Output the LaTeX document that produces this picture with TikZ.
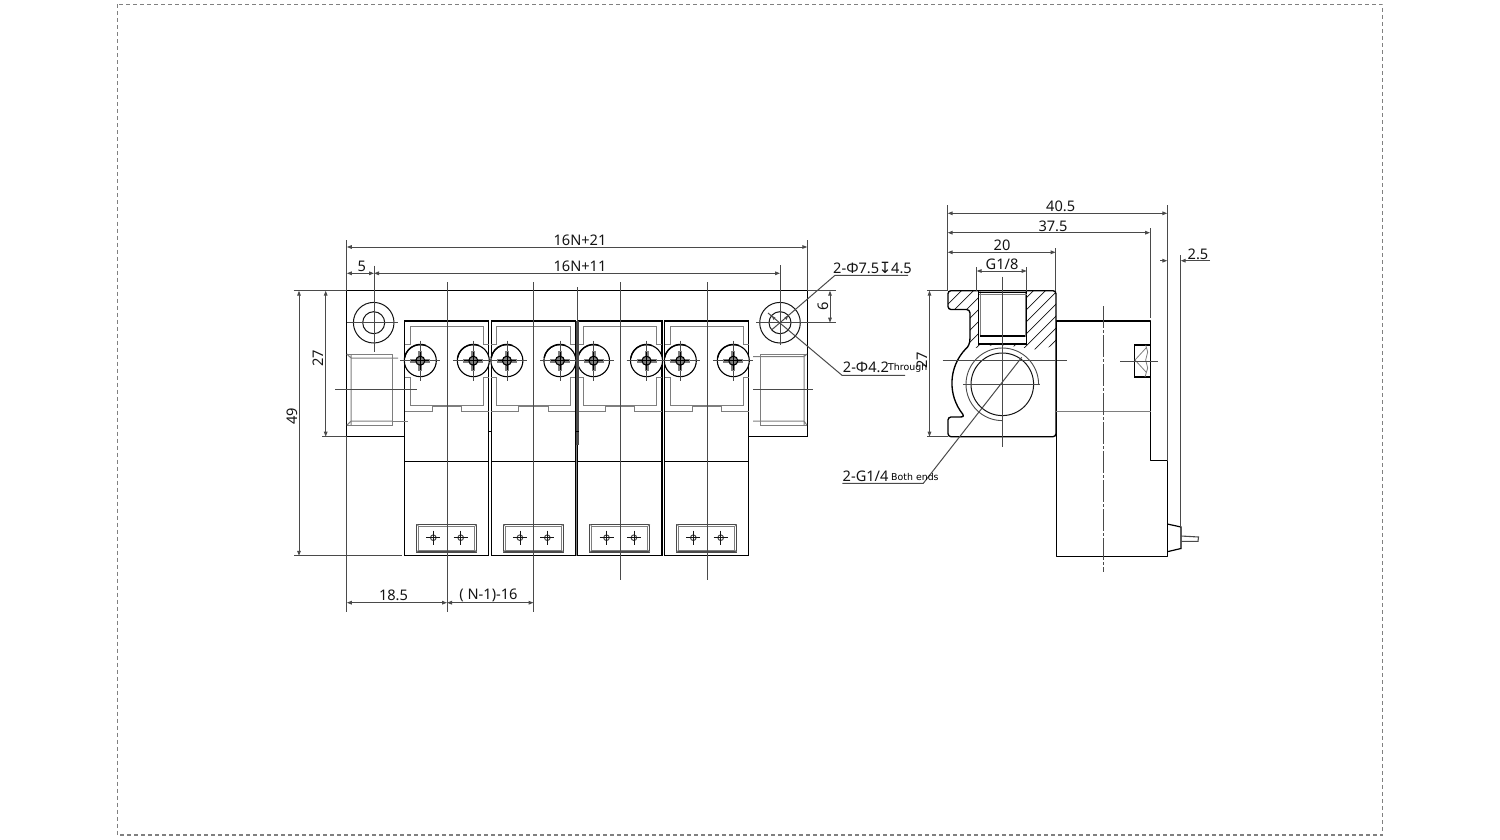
\documentclass[tikz,border=0pt]{standalone}
\usepackage{fontspec}
\setmainfont{Noto Sans}
\newfontfamily\dvfont{DejaVu Sans}
\usetikzlibrary{arrows.meta,calc}
\definecolor{lg}{HTML}{7E7E7E}
\definecolor{dimg}{HTML}{4A4A4A}
\definecolor{inkc}{HTML}{141414}
\tikzset{
  outl/.style={draw=black,line width=1.35pt},
  thinl/.style={draw=lg,line width=1pt},
  ctr/.style={draw=dimg,line width=0.9pt},
  extl/.style={draw=dimg,line width=1pt},
  diml/.style={draw=dimg,line width=1pt,{Stealth[length=5pt,width=3.6pt,inset=0pt]}-{Stealth[length=5pt,width=3.6pt,inset=0pt]}},
  dimr/.style={draw=dimg,line width=1pt,-{Stealth[length=5pt,width=3.6pt,inset=0pt]}},
  lab/.style={font=\fontsize{14.6}{14.6}\selectfont,text=inkc,inner sep=0pt},
  tiny/.style={font=\dvfont\fontsize{9.4}{9.4}\selectfont,text=black,inner sep=0pt},
  screwp/.pic={
    \path[fill=white] (0,0) circle[radius=16pt];
    \draw[draw=black,line width=1.1pt] (0,0) circle[radius=16pt];
    \draw[draw=black,line width=1.4pt] (-15.7,-3) arc[start angle=170,end angle=70,radius=16pt];
    \draw[ctr,line width=0.8pt] (-20,0) -- (20,0) (0,-20) -- (0,20);
    \draw[draw=lg,line width=4pt] (-10,0) -- (10,0) (0,-10) -- (0,10);
    \draw[draw=black,line width=1.1pt,fill=lg] (0,0) circle[radius=4.5pt];
    \draw[draw=black,line width=0.6pt] (-9,0) -- (9,0) (0,-9) -- (0,9);
  },
  targetp/.pic={
    \draw[draw=dimg,line width=1pt] (0,0) circle[radius=2.8pt];
    \draw[draw=inkc,line width=0.7pt] (-7,0) -- (7,0) (0,-7) -- (0,7);
  }
}
\begin{document}
\begin{tikzpicture}[x=1pt,y=-1pt]
\useasboundingbox (0,0) rectangle (1500,840);
% frame
\draw[draw=gray,line width=1.3pt,dash pattern=on 4pt off 3pt] (117.5,4.5) rectangle (1382.5,835);

% ---------- front view: plate
\draw[outl] (405,436.5) -- (346.8,436.5) -- (346.8,290.7) -- (807.3,290.7) -- (807.3,436.5) -- (749,436.5);
% mounting holes
\draw[draw=inkc,line width=1pt] (373.7,322.7) circle[radius=20.3pt] (373.7,322.7) circle[radius=11pt];
\draw[draw=inkc,line width=1pt] (780,322.7) circle[radius=20.3pt] (780,322.7) circle[radius=11pt];
\draw[ctr] (374,265.7) -- (374,352) (347,322.7) -- (398,322.7);
\draw[ctr] (780,265) -- (780,345) (756,322.7) -- (836,322.7);
% ports
\draw[thinl] (346.8,354) -- (392.7,354) -- (392.7,425.3) -- (346.8,425.3);
\draw[thinl] (351,425.3) -- (351,354) (346.8,354) -- (351,358) -- (398,358) (346.8,425.3) -- (351,421) -- (392.7,421);
\draw[thinl] (807,354) -- (760.7,354) -- (760.7,425.3) -- (807,425.3);
\draw[thinl] (804,354) -- (804,425.3) (807,354) -- (804,356.7) -- (753,356.7) (807,425.3) -- (804,421) -- (753,421);
\draw[ctr] (753,389.3) -- (813,389.3);

% ---------- front view: modules
\foreach \dx in {0,86.6,173.2,260}{
\begin{scope}[shift={(\dx,0)}]
  \draw[outl,fill=white] (404.6,321) rectangle (488.7,555.8);
  \draw[outl] (404.6,461.7) -- (488.7,461.7);
  % inner
  \draw[thinl] (410,344.7) -- (410,326.7) -- (483.7,326.7) -- (483.7,344.7)
     (410,377) -- (410,405) -- (432,405) -- (432,411.7) -- (404.6,411.7)
     (483.7,377) -- (483.7,405) -- (461.7,405) -- (461.7,411.7) -- (488.7,411.7)
     (404.6,344.7) -- (410,344.7) (404.6,377) -- (410,377)
     (483.7,344.7) -- (488.7,344.7) (483.7,377) -- (488.7,377);
  \draw[draw=lg,line width=1.6pt] (432,406) -- (461.7,406);
  % window
  \draw[draw=dimg,line width=1.1pt] (416.7,524.3) rectangle (476.7,552);
  \draw[draw=lg,line width=0.9pt] (418.7,526.3) rectangle (474.7,550);
  \draw[draw=lg,line width=0.7pt] (416.7,524.3) -- (418.7,526.3) (476.7,524.3) -- (474.7,526.3) (416.7,552) -- (418.7,550) (476.7,552) -- (474.7,550);
  \pic at (433.3,537.7) {targetp};
  \pic at (460.7,537.7) {targetp};
  \draw[ctr] (447,282) -- (447,580);
\end{scope}
}
\draw[ctr] (335,389.3) -- (417,389.3);
\draw[thinl] (392.7,421) -- (408,421);
\foreach \dx in {0,86.6,173.2,260}{
  \pic at (420.3+\dx,360.7) {screwp};
  \pic at (473.3+\dx,360.7) {screwp};
}
% between modules
\draw[draw=dimg,line width=3pt] (577,321) -- (577,445);
\draw[ctr] (577,287) -- (577,321);
\draw[draw=black,line width=1pt] (489,431) -- (491.5,431) (575.5,431) -- (578.5,431);
\draw[draw=lg,line width=0.9pt] (576,445) -- (576,556);

% ---------- front view: dimensions
\draw[extl] (346.8,240) -- (346.8,291) (346.8,437) -- (346.8,612);
\draw[extl] (807.3,240) -- (807.3,291);
\draw[diml] (346.8,247) -- (807.3,247);
\draw[diml] (346.8,273.3) -- (374,273.3);
\draw[diml] (374,273.3) -- (780,273.3);
\node[lab] (d1) at (580,240.5) {16N+21};
\node[lab] (d2) at (580,266.5) {16N+11};
\node[lab] (d3) at (361.7,266.5) {5};
\draw[extl] (293.5,290.7) -- (347,290.7) (322,436.7) -- (347,436.7) (294,555.8) -- (402,555.8);
\draw[diml] (299,290.7) -- (299,555.8);
\draw[diml] (325.7,290.7) -- (325.7,436.7);
\node[lab,rotate=90] (d4) at (292,416) {49};
\node[lab,rotate=90] (d5) at (318.5,358.5) {27};
\draw[extl] (447,580) -- (447,612) (533.6,580) -- (533.6,612);
\draw[diml] (346.8,602.7) -- (447,602.7);
\draw[diml] (447,602.7) -- (533.6,602.7);
\node[lab] (d6) at (393.5,595.5) {18.5};
\node[lab] (d7) at (488.5,595.5) {( N-1)-16};
% 6
\draw[extl] (807,290.7) -- (836,290.7);
\draw[diml] (830,290.7) -- (830,322.7);
\node[lab,rotate=90] (d8) at (823,306.7) {6};
% leaders
\draw[extl] (908,275.3) -- (835,275.3) -- (771.5,330);
\draw[extl] (905,375.3) -- (842,375.3) -- (768,313);
\fill[dimg] (788.3,315.5) -- (784.5,317.5) -- (786.5,320) -- cycle;
\fill[dimg] (771.7,315.7) -- (775.5,317.7) -- (773.5,320) -- cycle;
\node[lab,anchor=west] (d9) at (833,268.3) {2-Φ7.5{\dvfont\fontsize{15.5}{15.5}\selectfont\kern-0.5pt ↧\kern-0.5pt}4.5};
\node[lab,anchor=west] (d10) at (842.7,367.3) {2-Φ4.2};
\node[tiny,anchor=west] (d11) at (888,368) {Through};

% ---------- side view: block
\begin{scope}
\clip (951,290.7) -- (978.7,290.7) -- (978.7,344) -- (1026.7,344) -- (1026.7,290.7) -- (1056,290.7) -- (1056,342.7)
  .. controls (1050,348) and (1045,349.3) .. (1033,349.3) -- (1020,347.3) .. controls (1012,345.5) and (995,345) .. (987,346)
  .. controls (978,347) and (972,349) .. (966,350) -- (970,345) -- (970,309.3) -- (948,309.3) -- (948,291) -- cycle;
\foreach \c in {880,892,...,1060}{
  \draw[draw=inkc,line width=0.7pt] (\c,360) -- (\c+80,280);
}
\end{scope}
\draw[outl,line join=round] (951,290.7) -- (1053,290.7) arc[start angle=90,end angle=0,radius=3pt] -- (1056,433.7) arc[start angle=0,end angle=-90,radius=3pt] -- (951,436.7) arc[start angle=270,end angle=180,radius=3pt] -- (948,420) arc[start angle=180,end angle=90,radius=3pt] -- (960,417)
  .. controls (963,417) and (964.5,416) .. (963,414.5)
  arc[start angle=219,end angle=136,radius=49.7pt]
  .. controls (968,347) and (970,344) .. (970,338) -- (970,313) arc[start angle=0,end angle=90,radius=3.5pt] -- (951,309.5) arc[start angle=270,end angle=180,radius=3pt] -- (948,293.7) arc[start angle=180,end angle=90,radius=3pt] -- cycle;
% threaded hole
\path[fill=white] (978.7,291.5) rectangle (1026.7,344);
\draw[draw=black,line width=1.2pt] (978.7,291) -- (978.7,344) -- (1026.7,344) -- (1026.7,291);
\draw[draw=lg,line width=1pt] (980.5,291) -- (980.5,336) -- (1025,336) -- (1025,291);
\draw[draw=black,line width=1.2pt] (979,292.5) -- (1026.5,292.5) (980,336) -- (1025,336);
\draw[draw=lg,line width=0.9pt] (979,294.5) -- (1026.5,294.5);
% lower circles
\draw[draw=inkc,line width=1pt] (1002.3,384.3) circle[radius=31.3pt];
\draw[draw=dimg,line width=0.9pt] (1038.6,384.3) arc[start angle=0,end angle=270,radius=36.3pt];
% centre lines
\draw[ctr] (1002.3,276.7) -- (1002.3,447);
\draw[ctr] (942.7,360.7) -- (1066.7,360.7);
\draw[ctr] (963,384.3) -- (1040,384.3);
% leader G1/4
\draw[extl] (842.3,483.3) -- (923.3,483.3) -- (1021.7,357.3);
\node[lab,anchor=west] (e1) at (842.5,476.7) {2-G1/4};
\node[tiny,anchor=west] (e2) at (891,477) {Both ends};
% side view: body
\draw[outl,line join=round] (1056.3,321) -- (1150.7,321) -- (1150.7,460.7) -- (1167.3,460.7) -- (1167.3,556.7) -- (1056.3,556.7) -- cycle;
\draw[thinl] (1056.3,411.7) -- (1150.7,411.7);
\draw[draw=dimg,line width=0.9pt,dash pattern=on 22pt off 2pt on 3pt off 2pt] (1103.3,306) -- (1103.3,572);
% recess
\draw[draw=black,line width=1.4pt] (1150.7,345) -- (1134.3,345) -- (1134.3,377) -- (1150.7,377);
\draw[draw=lg,line width=0.8pt] (1145.7,345) -- (1147.7,352) -- (1145.7,360) -- (1147.7,368) -- (1145,377)
  (1146,348) -- (1135,360) -- (1146,372);
\draw[ctr] (1120,361) -- (1158,361);
% connector & pin
\draw[draw=black,line width=1.2pt] (1167.3,524) -- (1181,527) -- (1181,548.5) -- (1167.3,551.7);
\draw[draw=dimg,line width=1.1pt] (1181,536) -- (1198.5,537) -- (1198,541.3) -- (1181,541.3);

% ---------- side view: dimensions
\draw[extl] (947.7,205) -- (947.7,291);
\draw[extl] (1167.3,205) -- (1167.3,460.7);
\draw[extl] (1150,228) -- (1150,318);
\draw[extl] (1055.7,248) -- (1055.7,291);
\draw[extl] (976.7,267) -- (976.7,291) (1026.7,267) -- (1026.7,291);
\draw[extl] (1180.7,255) -- (1180.7,527);
\draw[diml] (947.7,213.3) -- (1167.3,213.3);
\draw[diml] (947.7,232.7) -- (1150,232.7);
\draw[diml] (947.7,252.3) -- (1055.7,252.3);
\draw[diml] (976.7,271) -- (1026.7,271);
\draw[dimr] (1160,260.7) -- (1167.3,260.7);
\draw[dimr] (1210,260.7) -- (1180.7,260.7);
\node[lab] (f1) at (1060.7,206.7) {40.5};
\node[lab] (f2) at (1053,226) {37.5};
\node[lab] (f3) at (1002,245.7) {20};
\node[lab] (f4) at (1002,264.3) {G1/8};
\node[lab] (f5) at (1198,254) {2.5};
\draw[extl] (927,290.7) -- (948,290.7) (927,436.7) -- (948,436.7);
\draw[diml] (929.5,290.7) -- (929.5,436.7);
\node[lab,rotate=90] (f6) at (922.7,360) {27};
\end{tikzpicture}
\end{document}
